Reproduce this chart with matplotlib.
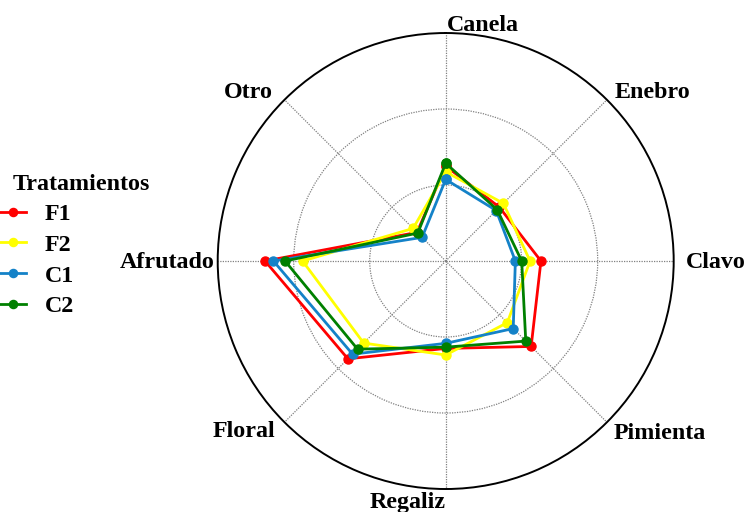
import numpy as np
import matplotlib
matplotlib.use("Agg")
import matplotlib.pyplot as plt

plt.rcParams['font.family'] = ['Liberation Serif', 'DejaVu Serif']
plt.rcParams['font.weight'] = 'bold'

categories = ["Canela", "Enebro", "Clavo", "Pimienta", "Regaliz", "Floral", "Afrutado", "Otro"]
treatments = ["F1", "F2", "C1", "C2"]
f1 = [3.75, 3.00, 3.76, 4.77, 3.45, 5.46, 7.13, 1.60]
f2 = [3.52, 3.22, 3.33, 3.44, 3.71, 4.58, 5.65, 1.82]
c1 = [3.22, 2.82, 2.75, 3.77, 3.25, 5.20, 6.80, 1.32]
c2 = [3.86, 2.87, 3.00, 4.47, 3.40, 4.92, 6.34, 1.56]
colors = ["#ff0000", "#ffff00", "#1482c8", "#008000"]
r_max = 9
r_rings = [3, 6]

FS = 17.3
PX = 0.72  # points per pixel at 100 dpi

fig = plt.figure(figsize=(7.46, 5.12), dpi=100)
ax = fig.add_axes([0.2918, 0.0449, 0.6113, 0.8906], projection='polar')
ax.set_theta_zero_location('N')
ax.set_theta_direction(-1)

n = len(categories)
angles = np.arange(n) * 2 * np.pi / n
closed = np.concatenate([angles, angles[:1]])

for name, vals, col in zip(treatments, [f1, f2, c1, c2], colors):
    v = np.concatenate([vals, vals[:1]])
    ax.plot(closed, v, color=col, lw=2.0, marker='o', markersize=6.5, label=name, zorder=3)

ax.set_ylim(0, r_max)
ax.set_yticks(r_rings)
ax.set_yticklabels([])
ax.set_xticks(angles)
ax.set_xticklabels([])
ax.grid(True, color='#808080', linestyle=(0, (1, 1)), linewidth=0.9)
ax.spines['polar'].set_color('black')
ax.spines['polar'].set_linewidth(1.4)

# category labels, anchored where each spoke meets the outer circle (offsets in pixels)
label_align = {
    "Canela": ('left', 1, 2),
    "Enebro": ('left', 8, 2),
    "Clavo": ('left', 12, -7),
    "Pimienta": ('left', 7, -17),
    "Regaliz": ('right', 0, -19),
    "Floral": ('right', -9.5, -15),
    "Afrutado": ('right', -3, -7),
    "Otro": ('right', -11.5, 2),
}
for ang, cat in zip(angles, categories):
    ha, dx, dy = label_align[cat]
    ax.annotate(cat, xy=(ang, r_max), xytext=(dx * PX, dy * PX), textcoords='offset points',
                ha=ha, va='baseline', fontsize=FS, fontweight='bold', annotation_clip=False)

fig.text(13 / 746, 1 - 190 / 512, "Tratamientos", fontsize=FS, fontweight='bold',
         ha='left', va='baseline')
leg = fig.legend(loc='upper left', bbox_to_anchor=(0.0, 0.603), frameon=False,
                 fontsize=FS, borderpad=0, borderaxespad=0,
                 handlelength=1.08, handletextpad=0.79, labelspacing=0.37,
                 markerscale=0.9)
for t in leg.get_texts():
    t.set_fontweight('bold')

fig.savefig("out.png", dpi=100)
